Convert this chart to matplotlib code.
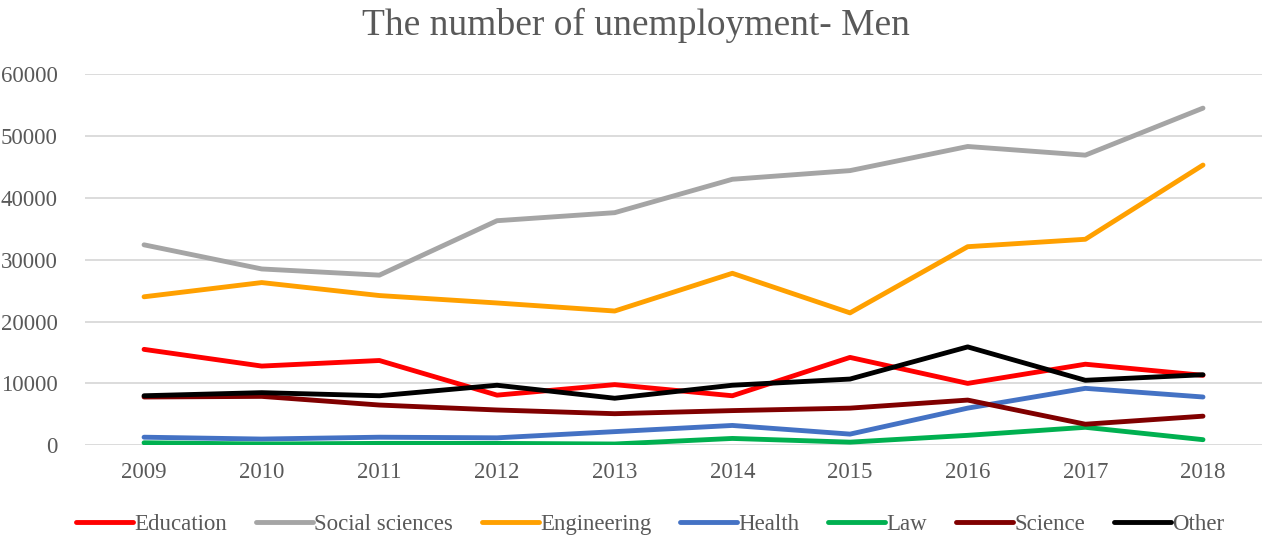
import numpy as np
import matplotlib.pyplot as plt

plt.rcParams['font.family'] = ['Liberation Serif', 'DejaVu Serif']

years = ['2009', '2010', '2011', '2012', '2013', '2014', '2015', '2016', '2017', '2018']

education = [15500, 12800, 13700, 8100, 9800, 8000, 14200, 10000, 13100, 11300]
social_sciences = [32400, 28500, 27500, 36300, 37600, 43000, 44400, 48300, 46900, 54500]
engineering = [24000, 26300, 24200, 23000, 21700, 27800, 21400, 32100, 33300, 45300]
health = [1300, 1000, 1300, 1200, 2200, 3200, 1800, 6000, 9200, 7800]
law = [400, 200, 300, 300, 200, 1100, 500, 1600, 2900, 900]
science = [7800, 7900, 6500, 5700, 5100, 5600, 6000, 7300, 3400, 4700]
other = [8000, 8500, 8000, 9700, 7600, 9700, 10700, 15900, 10500, 11400]

series = [
    ('Education', education, '#FF0000'),
    ('Social sciences', social_sciences, '#A5A5A5'),
    ('Engineering', engineering, '#FFA000'),
    ('Health', health, '#4472C4'),
    ('Law', law, '#00B050'),
    ('Science', science, '#800000'),
    ('Other', other, '#000000'),
]

fig = plt.figure(figsize=(12.72, 5.41), dpi=100)
ax = fig.add_axes([0.067, 0.177, 0.925, 0.686])

x = np.arange(len(years))
for name, vals, col in series:
    ax.plot(x, vals, color=col, lw=3.5, label=name, solid_capstyle='round', solid_joinstyle='round')

ax.set_xlim(-0.5, len(years) - 0.5)
ax.set_ylim(0, 60000)
ax.set_yticks(np.arange(0, 60001, 10000))
ax.set_xticks(x)
ax.set_xticklabels(years)
ax.grid(axis='y', color='#D9D9D9', lw=1.3)
ax.set_axisbelow(True)
for s in ax.spines.values():
    s.set_visible(False)
ax.tick_params(length=0, labelsize=16.5, colors='#595959', pad=12)
ax.tick_params(axis='y', pad=20)

fig.suptitle('The number of unemployment- Men', y=0.985, fontsize=27, color='#595959')

ax.legend(loc='center', bbox_to_anchor=(0.48, -0.213), ncol=7, frameon=False,
          fontsize=16.5, labelcolor='#595959', handlelength=2.5, handletextpad=0.05,
          columnspacing=1.25)

fig.savefig('out.png', dpi=100)
